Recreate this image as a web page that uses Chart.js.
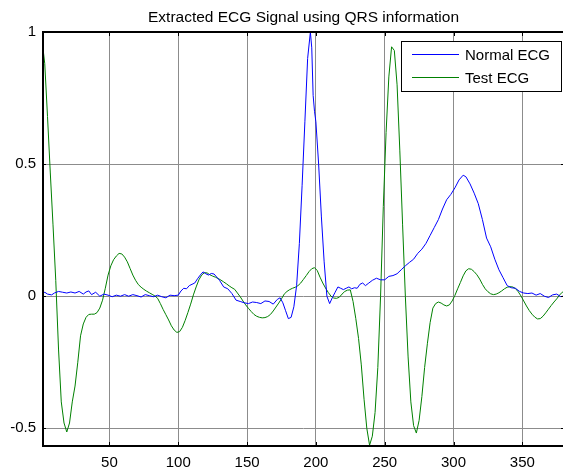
<!DOCTYPE html>
<html>
<head>
<meta charset="utf-8">
<script src="https://cdn.jsdelivr.net/npm/chart.js@4"></script>
<style>
    html, body { margin: 0; padding: 0; background: #fff; overflow: hidden; }
    #wrap { width: 565px; height: 475px; }
</style>
</head>
<body>
<div id="wrap"><canvas id="ecgChart" width="565" height="475"></canvas></div>
<script>
// Extracted ECG Signal using QRS information
const titleText = 'Extracted ECG Signal using QRS information';
const seriesNames = ['Normal ECG', 'Test ECG'];
const seriesColors = ['#0000ff', '#008000'];

const xTicks = [50, 100, 150, 200, 250, 300, 350];
const yTicks = [-0.5, 0, 0.5, 1];
const xRange = [1, 381];
const yRange = [-0.567, 1];

// Normal ECG (blue)
const normalX = [
    1, 3, 5, 8, 10, 13, 16, 19, 22, 25,
    28, 31, 33, 35, 37, 40, 43, 46, 49, 52,
    55, 58, 61, 64, 67, 70, 73, 76, 79, 82,
    85, 88, 91, 94, 97, 100, 102, 104, 106, 108,
    110, 112, 114, 116, 118, 120, 122, 124, 126, 128,
    130, 133, 136, 139, 142, 145, 148, 151, 154, 157,
    160, 163, 166, 169, 172, 174, 176, 178, 180, 182,
    184, 186, 188, 190, 192, 194, 196, 197, 198, 199,
    200, 202, 204, 206, 208, 210, 212, 214, 216, 218,
    220, 222, 224, 226, 228, 230, 232, 234, 236, 238,
    241, 244, 247, 250, 253, 256, 259, 262, 265, 268,
    271, 274, 277, 280, 283, 286, 289, 292, 295, 298,
    301, 304, 307, 309, 312, 315, 318, 321, 324, 327,
    330, 333, 336, 339, 342, 345, 348, 351, 354, 357,
    360, 363, 366, 369, 372, 375, 378, 381
];
const normalY = [
    0.005, 0.015, 0.008, 0.005, 0.012, 0.018, 0.015, 0.012, 0.016, 0.012,
    0.018, 0.008, 0.016, 0.02, 0.006, 0.015, 0.0, 0.008, 0.004, -0.002,
    0.004, 0.0, 0.006, 0.0, 0.006, 0.002, -0.003, 0.006, 0.002, -0.002,
    0.004, -0.002, -0.006, 0.004, 0.002, 0.004, 0.02, 0.03, 0.028, 0.04,
    0.045, 0.05, 0.066, 0.08, 0.092, 0.085, 0.08, 0.086, 0.084, 0.072,
    0.06, 0.035, 0.028, 0.01, -0.015, -0.02, -0.025, -0.028, -0.022, -0.024,
    -0.028, -0.018, -0.02, -0.03, -0.012, -0.006, -0.025, -0.055, -0.085, -0.08,
    -0.04, 0.04, 0.2, 0.42, 0.66, 0.9, 1.0, 0.94, 0.76, 0.7,
    0.66, 0.5, 0.3, 0.13, 0.0, -0.028, -0.005, 0.015, 0.035, 0.03,
    0.025, 0.03, 0.035, 0.028, 0.032, 0.03, 0.045, 0.05, 0.04, 0.048,
    0.06, 0.068, 0.062, 0.062, 0.075, 0.078, 0.085, 0.1, 0.115, 0.128,
    0.14, 0.162, 0.178, 0.2, 0.23, 0.26, 0.29, 0.33, 0.365, 0.385,
    0.41, 0.44, 0.458, 0.452, 0.425, 0.39, 0.35, 0.29, 0.22, 0.187,
    0.14, 0.1, 0.07, 0.04, 0.032, 0.03, 0.018, 0.012, 0.01, 0.012,
    0.004, 0.01, 0.0, -0.005, 0.005, 0.008, -0.002, 0.002
];

// Test ECG (green), every 2nd sample
const testX = [
    1, 3, 5, 7, 9, 11, 13, 15, 17, 19,
    21, 23, 25, 27, 29, 31, 33, 35, 37, 39,
    41, 43, 45, 47, 49, 51, 53, 55, 57, 59,
    61, 63, 65, 67, 69, 71, 73, 75, 77, 79,
    81, 83, 85, 87, 89, 91, 93, 95, 97, 99,
    101, 103, 105, 107, 109, 111, 113, 115, 117, 119,
    121, 123, 125, 127, 129, 131, 133, 135, 137, 139,
    141, 143, 145, 147, 149, 151, 153, 155, 157, 159,
    161, 163, 165, 167, 169, 171, 173, 175, 177, 179,
    181, 183, 185, 187, 189, 191, 193, 195, 197, 199,
    201, 203, 205, 207, 209, 211, 213, 215, 217, 219,
    221, 223, 225, 227, 229, 231, 233, 235, 237, 239,
    241, 243, 245, 247, 249, 251, 253, 255, 257, 259,
    261, 263, 265, 267, 269, 271, 273, 275, 277, 279,
    281, 283, 285, 287, 289, 291, 293, 295, 297, 299,
    301, 303, 305, 307, 309, 311, 313, 315, 317, 319,
    321, 323, 325, 327, 329, 331, 333, 335, 337, 339,
    341, 343, 345, 347, 349, 351, 353, 355, 357, 359,
    361, 363, 365, 367, 369, 371, 373, 375, 377, 379,
    381
];
const testY = [
    0.97, 0.88, 0.68, 0.47, 0.27, 0.06, -0.2, -0.4, -0.48, -0.514,
    -0.48, -0.4, -0.34, -0.25, -0.15, -0.105, -0.08, -0.069, -0.068, -0.068,
    -0.062, -0.045, -0.015, 0.03, 0.08, 0.115, 0.138, 0.152, 0.162, 0.16,
    0.148, 0.13, 0.105, 0.08, 0.06, 0.044, 0.034, 0.026, 0.019, 0.013,
    0.007, 0.001, -0.008, -0.028, -0.05, -0.07, -0.09, -0.112, -0.128, -0.137,
    -0.134, -0.118, -0.092, -0.062, -0.03, 0.005, 0.035, 0.062, 0.08, 0.089,
    0.088, 0.081, 0.076, 0.072, 0.067, 0.061, 0.054, 0.047, 0.039, 0.032,
    0.026, 0.012, -0.002, -0.018, -0.033, -0.046, -0.058, -0.069, -0.076, -0.08,
    -0.082, -0.081, -0.077, -0.069, -0.056, -0.041, -0.026, -0.01, 0.008, 0.018,
    0.025, 0.03, 0.034, 0.04, 0.05, 0.064, 0.078, 0.093, 0.104, 0.108,
    0.097, 0.072, 0.05, 0.031, 0.014, 0.0, -0.007, -0.008, -0.004, 0.008,
    0.018, 0.023, 0.024, -0.02, -0.085, -0.16, -0.26, -0.39, -0.5, -0.564,
    -0.53, -0.44, -0.27, 0.0, 0.34, 0.62, 0.83, 0.944, 0.93, 0.8,
    0.55, 0.27, 0.0, -0.23, -0.4, -0.49, -0.518, -0.47, -0.38, -0.27,
    -0.18, -0.1, -0.045, -0.028, -0.022, -0.026, -0.033, -0.037, -0.033, -0.018,
    0.003, 0.028, 0.052, 0.077, 0.096, 0.104, 0.102, 0.093, 0.081, 0.065,
    0.045, 0.028, 0.017, 0.009, 0.006, 0.008, 0.013, 0.02, 0.028, 0.034,
    0.036, 0.035, 0.029, 0.017, 0.001, -0.018, -0.037, -0.054, -0.068, -0.079,
    -0.086, -0.085, -0.076, -0.063, -0.049, -0.035, -0.022, -0.01, 0.004, 0.015,
    0.02
];

const fontFamily = '"Liberation Sans", Arial, Helvetica, sans-serif';

// draws the title over the plot area, the axes box with inner ticks, and the boxed legend
const matlabFrame = {
    id: 'matlabFrame',
    afterDraw(chart) {
        const ctx = chart.ctx;
        const area = chart.chartArea;
        const xs = chart.scales.x;
        const ys = chart.scales.y;
        ctx.save();

        ctx.fillStyle = '#000';
        ctx.font = '15.5px ' + fontFamily;
        ctx.textAlign = 'center';
        ctx.textBaseline = 'middle';
        ctx.fillText(titleText, (area.left + area.right) / 2, 18);

        ctx.strokeStyle = '#000';
        ctx.lineWidth = 1;
        const tl = 4;
        ctx.beginPath();
        xTicks.forEach(v => {
            const px = Math.round(xs.getPixelForValue(v)) + 0.5;
            ctx.moveTo(px, area.bottom); ctx.lineTo(px, area.bottom - tl);
            ctx.moveTo(px, area.top); ctx.lineTo(px, area.top + tl);
        });
        yTicks.forEach(v => {
            const py = Math.round(ys.getPixelForValue(v)) + 0.5;
            ctx.moveTo(area.left, py); ctx.lineTo(area.left + tl, py);
            ctx.moveTo(area.right, py); ctx.lineTo(area.right - tl, py);
        });
        ctx.stroke();

        ctx.lineWidth = 2;
        ctx.strokeRect(area.left + 1, area.top, area.right - area.left - 1, area.bottom - area.top);

        // legend
        const bx = 401.5, by = 41.5, bw = 160, bh = 50;
        ctx.fillStyle = '#fff';
        ctx.fillRect(bx, by, bw, bh);
        ctx.lineWidth = 1;
        ctx.strokeStyle = '#000';
        ctx.strokeRect(bx, by, bw, bh);
        ctx.font = '15px ' + fontFamily;
        ctx.textAlign = 'left';
        chart.data.datasets.forEach((ds, i) => {
            const ly = 54.5 + i * 23;
            ctx.strokeStyle = ds.borderColor;
            ctx.beginPath();
            ctx.moveTo(412, ly);
            ctx.lineTo(459, ly);
            ctx.stroke();
            ctx.fillStyle = '#000';
            ctx.fillText(ds.label, 465, ly + 1);
        });
        ctx.restore();
    }
};

const toPoints = (xArr, yArr) => xArr.map((x, i) => ({ x: x, y: yArr[i] }));

const ctx = document.getElementById('ecgChart').getContext('2d');
new Chart(ctx, {
    type: 'line',
    data: {
        datasets: [
            {
                label: seriesNames[0],
                data: toPoints(normalX, normalY),
                borderColor: seriesColors[0],
                borderWidth: 1,
                pointRadius: 0,
                tension: 0,
                fill: false,
            },
            {
                label: seriesNames[1],
                data: toPoints(testX, testY),
                borderColor: seriesColors[1],
                borderWidth: 1,
                pointRadius: 0,
                tension: 0,
                fill: false,
            },
        ],
    },
    options: {
        responsive: false,
        animation: false,
        devicePixelRatio: 1,
        layout: { padding: { top: 32, right: 0, left: 0, bottom: 0 } },
        plugins: {
            legend: { display: false },
            title: { display: false },
            tooltip: { enabled: false },
        },
        scales: {
            x: {
                type: 'linear',
                min: xRange[0],
                max: xRange[1],
                afterBuildTicks: (scale) => { scale.ticks = xTicks.map(v => ({ value: v })); },
                afterFit: (scale) => { scale.height = 29; },
                grid: { color: '#8c8c8c', lineWidth: 1, drawTicks: false },
                border: { display: false },
                ticks: {
                    padding: 8,
                    color: '#000',
                    maxRotation: 0,
                    font: { family: fontFamily, size: 15 },
                    callback: (v) => String(v),
                },
            },
            y: {
                type: 'linear',
                min: yRange[0],
                max: yRange[1],
                afterBuildTicks: (scale) => { scale.ticks = yTicks.map(v => ({ value: v })); },
                afterFit: (scale) => { scale.width = 42; },
                grid: { color: '#8c8c8c', lineWidth: 1, drawTicks: false },
                border: { display: false },
                ticks: {
                    padding: 6,
                    color: '#000',
                    font: { family: fontFamily, size: 15 },
                    callback: (v) => String(v),
                },
            },
        },
    },
    plugins: [matlabFrame],
});
</script>
</body>
</html>
